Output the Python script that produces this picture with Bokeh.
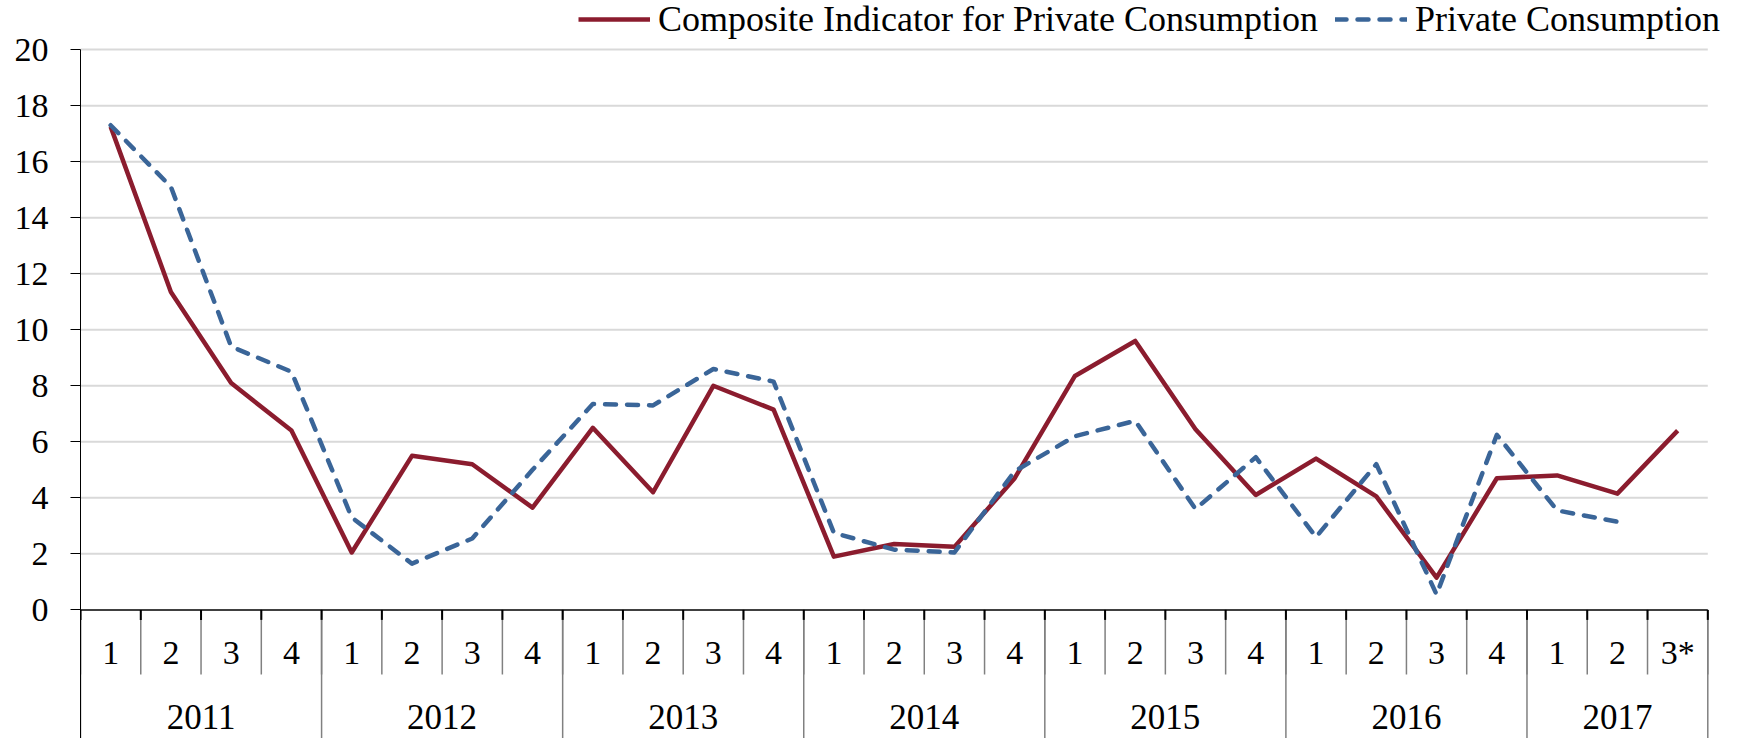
from bokeh.plotting import figure
from bokeh.models import Range1d, FixedTicker, Legend, LegendItem
from bokeh.core.properties import value
from bokeh.embed import file_html
from bokeh.resources import INLINE

# ---------------- data ----------------
years = ["2011", "2012", "2013", "2014", "2015", "2016", "2017"]
quarters_per_year = [4, 4, 4, 4, 4, 4, 3]
quarter_labels = ["1", "2", "3", "4"] * 6 + ["1", "2", "3*"]
composite = [17.25, 11.35, 8.1, 6.4, 2.05, 5.5, 5.2, 3.65, 6.5, 4.2, 8.0, 7.15,
             1.9, 2.35, 2.25, 4.7, 8.35, 9.6, 6.45, 4.1, 5.4, 4.05, 1.15, 4.7,
             4.8, 4.15, 6.4]
private = [17.3, 15.1, 9.4, 8.5, 3.3, 1.65, 2.55, 5.0, 7.35, 7.3, 8.6, 8.15,
           2.75, 2.15, 2.05, 4.95, 6.2, 6.75, 3.6, 5.45, 2.6, 5.2, 0.55, 6.25,
           3.55, 3.15]
y_ticks = [0, 2, 4, 6, 8, 10, 12, 14, 16, 18, 20]
series_names = ["Composite Indicator for Private Consumption", "Private Consumption"]

# ---------------- styling / layout ----------------
FONT = "Liberation Serif"
RED = "#8B1C2E"
BLUE = "#3A6598"
W, H = 1750, 738
LEFT = 80                  # frame left (pixel)
CAT = 60.27                # pixels per quarter
PX = 560.3 / 20.0          # pixels per unit on y
Y0_PX = 609.4              # pixel row of y=0
YTOP_PX = 49.1             # pixel row of y=20
ybot = -(H - Y0_PX) / PX
ytop = 20 + YTOP_PX / PX

n = len(quarter_labels)
x_all = [i + 0.5 for i in range(n)]
x_end = (W - LEFT) / CAT

p = figure(width=W, height=H, x_range=Range1d(0, x_end), y_range=Range1d(ybot, ytop),
           x_axis_location=None, y_axis_location="left",
           output_backend="svg", toolbar_location=None,
           min_border_left=LEFT, min_border_right=0, min_border_top=0, min_border_bottom=0,
           outline_line_color=None, background_fill_color="white")

# y axis
ax = p.yaxis[0]
ax.ticker = FixedTicker(ticks=y_ticks)
ax.bounds = (ybot, 20)
ax.major_tick_out = 10
ax.major_tick_in = 0
ax.minor_tick_out = 0
ax.minor_tick_in = 0
ax.major_tick_line_color = "black"
ax.axis_line_color = "black"
ax.axis_line_width = 1
ax.major_label_standoff = 22
ax.major_label_text_font = FONT
ax.major_label_text_font_size = "34px"
ax.major_label_text_color = "black"

p.ygrid.visible = False
p.xgrid.visible = False
# horizontal gridlines limited to the category span
p.segment(x0=[0] * (len(y_ticks) - 1), y0=y_ticks[1:], x1=[n] * (len(y_ticks) - 1), y1=y_ticks[1:],
          line_color="#d9d9d9", line_width=2)

# category table below the plot
q_sep_y = -64.6 / PX
tick_y = -10 / PX
p.segment(x0=list(range(n + 1)), y0=[0] * (n + 1), x1=list(range(n + 1)), y1=[q_sep_y] * (n + 1),
          line_color="#808080", line_width=1.5)
bounds = [0]
for c in quarters_per_year:
    bounds.append(bounds[-1] + c)
p.segment(x0=bounds, y0=[0] * len(bounds), x1=bounds, y1=[ybot] * len(bounds),
          line_color="#808080", line_width=1.5)
p.segment(x0=list(range(n + 1)), y0=[0] * (n + 1), x1=list(range(n + 1)), y1=[tick_y] * (n + 1),
          line_color="black", line_width=2)
p.segment(x0=[0], y0=[0], x1=[n], y1=[0], line_color="black", line_width=1.5)

p.text(x=x_all, y=[-42.6 / PX] * n, text=quarter_labels,
       text_font=value(FONT), text_font_size=value("34px"), text_color="black",
       text_align="center", text_baseline="middle")
year_x = [(bounds[i] + bounds[i + 1]) / 2 for i in range(len(years))]
p.text(x=year_x, y=[-106.6 / PX] * len(years), text=years,
       text_font=value(FONT), text_font_size=value("35px"), text_color="black",
       text_align="center", text_baseline="middle")

# series
r1 = p.line(x_all, composite, line_color=RED, line_width=4.5, line_join="round")
r2 = p.line(x_all[:len(private)], private, line_color=BLUE, line_width=4.5,
            line_dash="11 11", line_cap="round", line_join="round")

legend = Legend(items=[LegendItem(label=series_names[0], renderers=[r1]),
                       LegendItem(label=series_names[1], renderers=[r2])],
                orientation="horizontal", location=(498, 698),
                glyph_width=72, label_standoff=8, spacing=17, padding=0, margin=0,
                border_line_color=None, background_fill_alpha=0,
                label_text_font=FONT, label_text_font_size="36px",
                label_text_color="black")
p.add_layout(legend)

open("out.html", "w").write(file_html(p, INLINE))
